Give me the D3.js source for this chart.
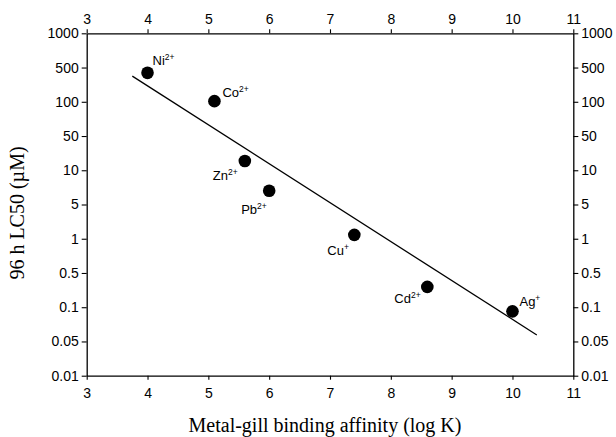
<!DOCTYPE html>
<html>
<head>
<meta charset="utf-8">
<script src="https://cdn.jsdelivr.net/npm/d3@7"></script>
<style>
  body { margin: 0; background: #fff; }
</style>
</head>
<body>
<div id="chart"></div>
<script>
// metal ions, binding affinity (log K) and 96 h LC50 (uM)
const ions = ["Ni", "Co", "Zn", "Pb", "Cu", "Cd", "Ag"];
const charges = ["2+", "2+", "2+", "2+", "+", "2+", "+"];
const logK = [4.0, 5.1, 5.6, 6.0, 7.4, 8.6, 10.0];
const lc50 = [390, 103, 15.5, 6.6, 1.2, 0.26, 0.092];

// regression line end points
const fitX = [3.75, 10.4];
const fitY = [334, 0.057];

const xTicks = [3, 4, 5, 6, 7, 8, 9, 10, 11];
const yTicks = [1000, 500, 100, 50, 10, 5, 1, 0.5, 0.1, 0.05, 0.01];

// label offsets from point centre (px)
const labelDx = [5, 8, -32, -28, -27, -33, 7];
const labelDy = [-8, -4, 19, 23, 20, 16, -5];

const sans = '"Liberation Sans", Arial, sans-serif';
const serif = '"Liberation Serif", "Times New Roman", serif';

const width = 616, height = 437;
const margin = {left: 86.7, right: 42.7, top: 33.3, bottom: 61.3};
const iw = width - margin.left - margin.right;
const ih = height - margin.top - margin.bottom;

const svg = d3.select('#chart').append('svg')
  .attr('width', width)
  .attr('height', height);

const g = svg.append('g').attr('transform', `translate(${margin.left},${margin.top})`);

const x = d3.scaleLinear().domain([3, 11]).range([0, iw]);

// tick labels are spaced evenly, so map log10 of the values piecewise
const yPos = d3.scaleLinear()
  .domain(yTicks.map(v => Math.log10(v)))
  .range(yTicks.map((v, i) => i * ih / (yTicks.length - 1)));
const y = v => yPos(Math.log10(v));

const fmt = d => String(d);

function styleAxis(sel) {
  sel.attr('font-family', null).attr('font-size', null);
  sel.selectAll('path').attr('stroke', '#000').attr('stroke-width', 1.3);
  sel.selectAll('line').attr('stroke', '#000').attr('stroke-width', 1.1);
  sel.selectAll('text').style('font-size', '14px').style('font-family', sans).attr('fill', '#000');
}

g.append('g')
  .attr('transform', `translate(0,${ih})`)
  .call(d3.axisBottom(x).tickValues(xTicks).tickFormat(fmt).tickSize(4).tickSizeOuter(0).tickPadding(8))
  .call(styleAxis);

g.append('g')
  .call(d3.axisTop(x).tickValues(xTicks).tickFormat(fmt).tickSize(4).tickSizeOuter(0).tickPadding(5))
  .call(styleAxis);

g.append('g')
  .call(d3.axisLeft(yPos).tickValues(yTicks.map(v => Math.log10(v)))
    .tickFormat((d, i) => fmt(yTicks[i])).tickSize(5).tickSizeOuter(0).tickPadding(3))
  .call(styleAxis);

g.append('g')
  .attr('transform', `translate(${iw},0)`)
  .call(d3.axisRight(yPos).tickValues(yTicks.map(v => Math.log10(v)))
    .tickFormat((d, i) => fmt(yTicks[i])).tickSize(5).tickSizeOuter(0).tickPadding(3))
  .call(styleAxis);

// regression line
g.append('line')
  .attr('x1', x(fitX[0])).attr('y1', y(fitY[0]))
  .attr('x2', x(fitX[1])).attr('y2', y(fitY[1]))
  .attr('stroke', '#000')
  .attr('stroke-width', 1.3);

// points
g.selectAll('circle')
  .data(ions)
  .enter()
  .append('circle')
  .attr('cx', (d, i) => x(logK[i]))
  .attr('cy', (d, i) => y(lc50[i]))
  .attr('r', 6.3)
  .attr('fill', '#000');

// ion labels
const lab = g.selectAll('text.ion')
  .data(ions)
  .enter()
  .append('text')
  .attr('class', 'ion')
  .attr('x', (d, i) => x(logK[i]) + labelDx[i])
  .attr('y', (d, i) => y(lc50[i]) + labelDy[i])
  .style('font-family', sans)
  .style('font-size', '13px')
  .attr('fill', '#000');
lab.append('tspan').text(d => d);
lab.append('tspan')
  .attr('dy', -5)
  .style('font-size', '8.5px')
  .text((d, i) => charges[i]);

// axis titles
svg.append('text')
  .attr('x', 325)
  .attr('y', 432)
  .attr('text-anchor', 'middle')
  .style('font-family', serif)
  .style('font-size', '20px')
  .text('Metal-gill binding affinity (log K)');

svg.append('text')
  .attr('transform', 'translate(24,213) rotate(-90)')
  .attr('text-anchor', 'middle')
  .style('font-family', serif)
  .style('font-size', '20px')
  .text('96 h LC50 (µM)');
</script>
</body>
</html>
